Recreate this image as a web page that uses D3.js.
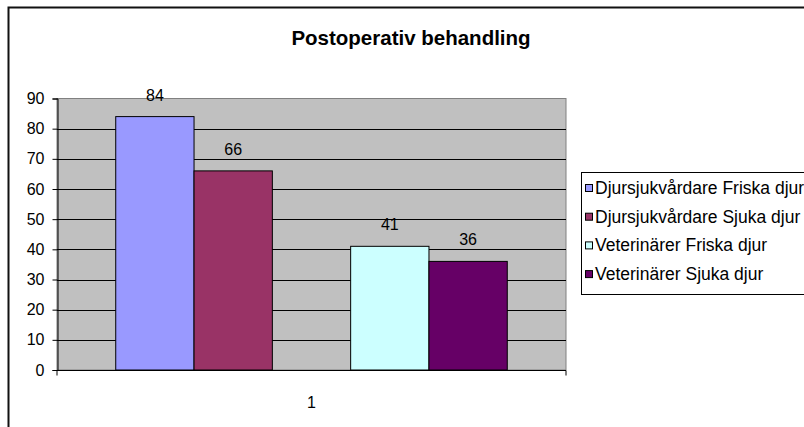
<!DOCTYPE html>
<html>
<head>
<meta charset="utf-8">
<script src="https://cdn.jsdelivr.net/npm/d3@7"></script>
<style>
  html, body { margin: 0; padding: 0; background: #fff; }
  svg { display: block; font-family: "Liberation Sans", Arial, sans-serif; }
</style>
</head>
<body>
<svg id="chart" width="804" height="427"></svg>
<script>
// ---- data ----
const title = "Postoperativ behandling";
const categories = ["1"];
const seriesNames = [
  "Djursjukvårdare Friska djur",
  "Djursjukvårdare Sjuka djur",
  "Veterinärer Friska djur",
  "Veterinärer Sjuka djur"
];
const seriesValues = [84, 66, 41, 36];
const seriesColors = ["#9999FF", "#993366", "#CCFFFF", "#660066"];
const yTicks = [0, 10, 20, 30, 40, 50, 60, 70, 80, 90];
// bar slots (an empty slot sits between the two groups, as in the original)
const slots = ["s0", "s1", "gap", "s2", "s3"];
const seriesSlot = ["s0", "s1", "s2", "s3"];

// ---- layout ----
const svg = d3.select("#chart");
const plot = { left: 57, right: 566, top: 98.5, bottom: 370 };

// outer chart border
svg.append("rect")
  .attr("x", 8.5).attr("y", 7.5)
  .attr("width", 820).attr("height", 440)
  .attr("fill", "#fff").attr("stroke", "#111").attr("stroke-width", 2);

// title
svg.append("text")
  .attr("x", 411).attr("y", 45)
  .attr("text-anchor", "middle")
  .attr("font-weight", "bold")
  .attr("font-size", 20.5)
  .attr("fill", "#000")
  .text(title);

const y = d3.scaleLinear().domain([0, 90]).range([plot.bottom, plot.top]);
const x = d3.scaleBand().domain(slots)
  .range([plot.left, plot.right])
  .paddingInner(0).paddingOuter(0.75);
const xCat = d3.scaleBand().domain(categories).range([plot.left, plot.right]);

// plot background
svg.append("rect")
  .attr("x", plot.left).attr("y", plot.top)
  .attr("width", plot.right - plot.left).attr("height", plot.bottom - plot.top)
  .attr("fill", "#C0C0C0").attr("stroke", "#808080").attr("stroke-width", 1);

// gridlines
svg.append("g").selectAll("line")
  .data(yTicks.filter(t => t > 0 && t < 90))
  .join("line")
  .attr("x1", plot.left).attr("x2", plot.right)
  .attr("y1", d => Math.round(y(d)) + 0.5).attr("y2", d => Math.round(y(d)) + 0.5)
  .attr("stroke", "#000").attr("stroke-width", 1);

// bars
svg.append("g").selectAll("rect")
  .data(seriesValues)
  .join("rect")
  .attr("x", (d, i) => x(seriesSlot[i]))
  .attr("y", d => y(d))
  .attr("width", x.bandwidth())
  .attr("height", d => y(0) - y(d))
  .attr("fill", (d, i) => seriesColors[i])
  .attr("stroke", "#000").attr("stroke-width", 1);

// value labels
svg.append("g").selectAll("text")
  .data(seriesValues)
  .join("text")
  .attr("x", (d, i) => x(seriesSlot[i]) + x.bandwidth() / 2)
  .attr("y", d => y(d) - 16)
  .attr("text-anchor", "middle")
  .attr("font-size", 16)
  .attr("fill", "#000")
  .text(d => d);

// y axis
const yAxis = d3.axisLeft(y).tickValues(yTicks).tickSize(5).tickPadding(8).tickFormat(d3.format("d"));
const gy = svg.append("g").attr("transform", `translate(${plot.left + 0.5},0)`).call(yAxis);
gy.select(".domain").attr("stroke", "#000");
gy.selectAll(".tick line").attr("stroke", "#000");
gy.selectAll("text").attr("font-size", 16).attr("fill", "#000")
  .attr("font-family", "'Liberation Sans', Arial, sans-serif");

// x axis
const xAxis = d3.axisBottom(xCat).tickSize(0).tickPadding(26);
const gx = svg.append("g").attr("transform", `translate(0,${plot.bottom + 0.5})`).call(xAxis);
gx.select(".domain").attr("stroke", "#000").attr("d", `M${plot.left},5V0H${plot.right}V5`);
gx.selectAll("text").attr("font-size", 16).attr("fill", "#000")
  .attr("font-family", "'Liberation Sans', Arial, sans-serif");

// legend
const lg = svg.append("g");
lg.append("rect")
  .attr("x", 581.5).attr("y", 172.5)
  .attr("width", 240).attr("height", 122)
  .attr("fill", "#fff").attr("stroke", "#000").attr("stroke-width", 1);
const rows = lg.selectAll("g.row")
  .data(seriesNames)
  .join("g").attr("class", "row")
  .attr("transform", (d, i) => `translate(0,${188 + i * 28.7})`);
rows.append("rect")
  .attr("x", 585.5).attr("y", -3.5)
  .attr("width", 7).attr("height", 7)
  .attr("fill", (d, i) => seriesColors[i])
  .attr("stroke", "#000").attr("stroke-width", 1);
rows.append("text")
  .attr("x", 595).attr("y", 6)
  .attr("font-size", 17.5)
  .attr("fill", "#000")
  .text(d => d);
</script>
</body>
</html>
